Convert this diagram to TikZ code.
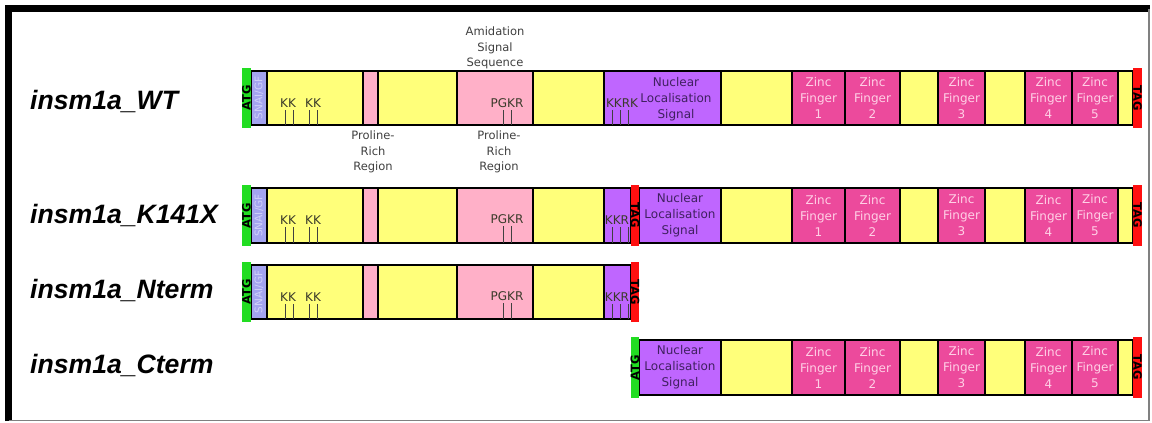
\documentclass[tikz,border=0pt]{standalone}
\usepackage{fontspec}
\setmainfont{DejaVu Sans}
\newfontfamily\labelfont{Liberation Sans}
\definecolor{atgc}{HTML}{22DD22}
\definecolor{snagc}{HTML}{A4A4F0}
\definecolor{snagt}{HTML}{D0D0FA}
\definecolor{yelc}{HTML}{FFFF7A}
\definecolor{lpinkc}{HTML}{FFB0C8}
\definecolor{nlsc}{HTML}{BF66FF}
\definecolor{nlst}{HTML}{402060}
\definecolor{zfc}{HTML}{EC4A9C}
\definecolor{zft}{HTML}{FFD0E6}
\definecolor{stopc}{HTML}{FF1010}
\definecolor{motift}{HTML}{3A3A2A}
\definecolor{notet}{HTML}{404040}
\newcommand\segm[5]{\node[blk,#1,minimum width={(#4)-(#3)},minimum height={\rb-\rt}] (#2) at ({((#3)+(#4))/2},{(\rt+\rb)/2}) {#5};}
\newcommand\capseg[5]{\node[capblk,fill=#1,minimum width={(#4)-(#3)},minimum height={\rb-\rt+6}] (#2) at ({((#3)+(#4))/2},{(\rt+\rb)/2}) {};
  \node[captext,rotate=#5] at (#2.center) {\ifnum#5>0 ATG\else TAG\fi};}
\newcommand\tickat[1]{\draw[tickline] (#1,110) -- (#1,\rb);}
\newcommand\tickatb[2]{\draw[tickline] (#1,#2) -- (#1,\rb);}
\begin{document}
\begin{tikzpicture}[x=1pt,y=-1pt,
  blk/.style={draw=black,line width=2pt,inner sep=0pt,outer sep=0pt,font=\fontsize{12}{16}\selectfont,align=center},
  capblk/.style={inner sep=0pt,outer sep=0pt},
  captext/.style={font=\bfseries\fontsize{11.5}{11.5}\selectfont,inner sep=0pt,text=black},
  yseg/.style={fill=yelc},
  pseg/.style={fill=lpinkc},
  sseg/.style={fill=snagc},
  nseg/.style={fill=nlsc,text=nlst},
  zseg/.style={fill=zfc,text=zft},
  motif/.style={font=\fontsize{12}{14}\selectfont,text=motift,inner sep=0pt},
  note/.style={font=\fontsize{11.5}{15.5}\selectfont,text=notet,align=center,inner sep=0pt},
  nlstext/.style={font=\fontsize{12}{16}\selectfont,text=nlst,align=center,inner sep=0pt},
  snagtext/.style={font=\fontsize{10.5}{10.5}\selectfont,text=snagt,inner sep=0pt,rotate=90},
  tickline/.style={draw=notet,line width=1pt},
  rowlabel/.style={font=\labelfont\bfseries\itshape\fontsize{26.6}{30}\selectfont,inner sep=0pt,anchor=base west}
  ]
\useasboundingbox (0,0) rectangle (1152,423);
\fill[white] (0,0) rectangle (1152,423);
% frame
\draw[line width=7pt] (8.5,421) -- (8.5,8.5) -- (1149.5,8.5);
\draw[gray,line width=1.2pt] (1149,8.5) -- (1149,420.5) -- (8.5,420.5);

% row labels
\node[rowlabel] (lwt) at (30,109) {insm1a\_WT};
\node[rowlabel] (lk) at (30,223) {insm1a\_K141X};
\node[rowlabel] (ln) at (30,298) {insm1a\_Nterm};
\node[rowlabel] (lc) at (30,373) {insm1a\_Cterm};

% ===== WT =====
\def\rt{71}\def\rb{125}
\segm{sseg}{wsn}{251}{267}{}
\segm{yseg}{wy1}{267}{363}{}
\segm{pseg}{wp1}{363}{378}{}
\segm{yseg}{wy2}{378}{457}{}
\segm{pseg}{wp2}{457}{533}{}
\segm{yseg}{wy3}{533}{604}{}
\segm{nseg}{wnls}{604}{721}{}
\segm{yseg}{wy4}{721}{792}{}
\segm{zseg}{wz1}{792}{845}{Zinc\\Finger\\1}
\segm{zseg}{wz2}{845}{900}{Zinc\\Finger\\2}
\segm{yseg}{wy5}{900}{938}{}
\segm{zseg}{wz3}{938}{985}{Zinc\\Finger\\3}
\segm{yseg}{wy6}{985}{1025}{}
\segm{zseg}{wz4}{1025}{1072}{Zinc\\Finger\\4}
\segm{zseg}{wz5}{1072}{1118}{Zinc\\Finger\\5}
\segm{yseg}{wy7}{1118}{1133}{}
\capseg{atgc}{watg}{242}{251}{90}
\capseg{stopc}{wtag}{1133}{1142}{-90}
\node[snagtext] (wsnt) at (wsn.center) {SNAI/GF};
\node[motif] (wkk1) at (288,103) {KK};
\node[motif] (wkk2) at (313,103) {KK};
\tickat{285}\tickat{293}\tickat{309}\tickat{317}
\node[motif] (wpgkr) at (507,103) {PGKR};
\tickat{503}\tickat{511}
\node[motif] (wkkrk) at (622,103) {KKRK};
\tickat{612}\tickat{620}\tickat{628}
\node[nlstext] (wnlst) at (676,99) {Nuclear\\Localisation\\Signal};
\node[note] (amid) at (495,48) {Amidation\\Signal\\Sequence};
\node[note] (pro1) at (373,152) {Proline-\\Rich\\Region};
\node[note] (pro2) at (499,152) {Proline-\\Rich\\Region};

% ===== K141X =====
\def\rt{188}\def\rb{243}
\segm{sseg}{ksn}{251}{267}{}
\segm{yseg}{ky1}{267}{363}{}
\segm{pseg}{kp1}{363}{378}{}
\segm{yseg}{ky2}{378}{457}{}
\segm{pseg}{kp2}{457}{533}{}
\segm{yseg}{ky3}{533}{604}{}
\segm{nseg}{kn1}{604}{631}{}
\segm{nseg}{knls}{639}{721}{Nuclear\\Localisation\\Signal}
\segm{yseg}{ky4}{721}{792}{}
\segm{zseg}{kz1}{792}{845}{Zinc\\Finger\\1}
\segm{zseg}{kz2}{845}{900}{Zinc\\Finger\\2}
\segm{yseg}{ky5}{900}{938}{}
\segm{zseg}{kz3}{938}{985}{Zinc\\Finger\\3}
\segm{yseg}{ky6}{985}{1025}{}
\segm{zseg}{kz4}{1025}{1072}{Zinc\\Finger\\4}
\segm{zseg}{kz5}{1072}{1118}{Zinc\\Finger\\5}
\segm{yseg}{ky7}{1118}{1133}{}
\capseg{atgc}{katg}{242}{251}{90}
\capseg{stopc}{ktag1}{631}{639}{-90}
\capseg{stopc}{ktag}{1133}{1142}{-90}
\node[snagtext] (ksnt) at (ksn.center) {SNAI/GF};
\node[motif] (kkk1) at (288,220) {KK};
\node[motif] (kkk2) at (313,220) {KK};
\tickatb{285}{227}\tickatb{293}{227}\tickatb{309}{227}\tickatb{317}{227}
\node[motif] (kpgkr) at (507,219) {PGKR};
\tickatb{503}{226}\tickatb{511}{226}
\node[motif] (kkkr) at (617,220) {KKR};
\tickatb{612}{227}\tickatb{620}{227}\tickatb{628}{227}

% ===== Nterm =====
\def\rt{265}\def\rb{319}
\segm{sseg}{nsn}{251}{267}{}
\segm{yseg}{ny1}{267}{363}{}
\segm{pseg}{np1}{363}{378}{}
\segm{yseg}{ny2}{378}{457}{}
\segm{pseg}{np2}{457}{533}{}
\segm{yseg}{ny3}{533}{604}{}
\segm{nseg}{nn1}{604}{631}{}
\capseg{atgc}{natg}{242}{251}{90}
\capseg{stopc}{ntag}{631}{639}{-90}
\node[snagtext] (nsnt) at (nsn.center) {SNAI/GF};
\node[motif] (nkk1) at (288,297) {KK};
\node[motif] (nkk2) at (313,297) {KK};
\tickatb{285}{304}\tickatb{293}{304}\tickatb{309}{304}\tickatb{317}{304}
\node[motif] (npgkr) at (507,296) {PGKR};
\tickatb{503}{303}\tickatb{511}{303}
\node[motif] (nkkr) at (617,297) {KKR};
\tickatb{612}{304}\tickatb{620}{304}\tickatb{628}{304}

% ===== Cterm =====
\def\rt{340}\def\rb{395}
\segm{nseg}{cnls}{639}{721}{Nuclear\\Localisation\\Signal}
\segm{yseg}{cy4}{721}{792}{}
\segm{zseg}{cz1}{792}{845}{Zinc\\Finger\\1}
\segm{zseg}{cz2}{845}{900}{Zinc\\Finger\\2}
\segm{yseg}{cy5}{900}{938}{}
\segm{zseg}{cz3}{938}{985}{Zinc\\Finger\\3}
\segm{yseg}{cy6}{985}{1025}{}
\segm{zseg}{cz4}{1025}{1072}{Zinc\\Finger\\4}
\segm{zseg}{cz5}{1072}{1118}{Zinc\\Finger\\5}
\segm{yseg}{cy7}{1118}{1133}{}
\capseg{atgc}{catg}{631}{639}{90}
\capseg{stopc}{ctag}{1133}{1142}{-90}
\end{tikzpicture}
\end{document}
